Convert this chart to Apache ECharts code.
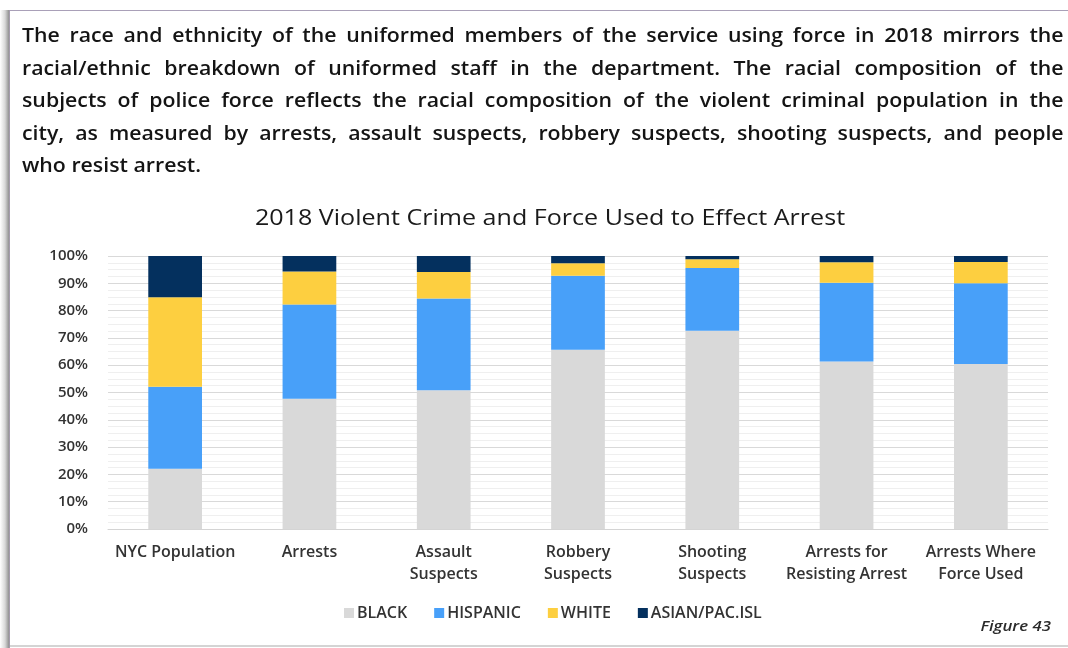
<!DOCTYPE html>
<html>
<head>
<meta charset="utf-8">
<script src="https://cdn.jsdelivr.net/npm/echarts@6/dist/echarts.min.js"></script>
<style>
  html, body { margin: 0; padding: 0; background: #fff; }
  #wrap { position: relative; width: 1068px; height: 648px; overflow: hidden; background: #fff; }
  #shadow { position: absolute; left: 0; top: 10px; width: 10px; height: 638px;
    background: linear-gradient(to right, #ffffff 0%, #d8d8d8 50%, #9a9a9a 85%, #a79bb3 100%); }
  #topline { position: absolute; left: 10px; top: 10px; width: 1058px; height: 1px; background: #a9a0b8; }
  #bottomline { position: absolute; left: 10px; top: 645px; width: 1058px; height: 2px; background: #d4d4d4; }
  #para { position: absolute; left: 22px; top: 19px; width: 930px; font-family: "Open Sans", Lato, sans-serif;
    font-size: 19px; color: #141414; line-height: 32.6px; font-weight: 600;
    transform: scaleX(1.12); transform-origin: 0 0; }
  #para div.j { text-align: justify; text-align-last: justify; }
  #chart { position: absolute; left: 0; top: 0; width: 1068px; height: 648px; }
  #fig { position: absolute; right: 17px; top: 615px; font-family: "Open Sans", Lato, sans-serif;
    font-style: italic; font-weight: 600; font-size: 15px; color: #2a2a2a;
    transform: scaleX(1.12); transform-origin: 100% 0; }
</style>
</head>
<body>
<div id="wrap">
  <div id="chart"></div>
  <div id="shadow"></div>
  <div id="topline"></div>
  <div id="bottomline"></div>
  <div id="para">
    <div class="j">The race and ethnicity of the uniformed members of the service using force in 2018 mirrors the</div>
    <div class="j">racial/ethnic breakdown of uniformed staff in the department. The racial composition of the</div>
    <div class="j">subjects of police force reflects the racial composition of the violent criminal population in the</div>
    <div class="j">city, as measured by arrests, assault suspects, robbery suspects, shooting suspects, and people</div>
    <div>who resist arrest.</div>
  </div>
  <div id="fig">Figure 43</div>
</div>
<script>
const categories = ["NYC Population", "Arrests", "Assault\nSuspects", "Robbery\nSuspects", "Shooting\nSuspects", "Arrests for\nResisting Arrest", "Arrests Where\nForce Used"];
const black    = [22.1, 47.7, 50.8, 65.7, 72.6, 61.4, 60.4];
const hispanic = [30.0, 34.5, 33.6, 27.1, 23.0, 28.8, 29.6];
const white    = [32.8, 12.1, 9.7, 4.5, 3.2, 7.5, 7.8];
const asian    = [15.1, 5.7, 5.9, 2.7, 1.2, 2.3, 2.2];
const seriesNames = ["BLACK", "HISPANIC", "WHITE", "ASIAN/PAC.ISL"];
const chartTitle = "2018 Violent Crime and Force Used to Effect Arrest";

const colors = ["#d9d9d9", "#48a0f9", "#fdcf40", "#04305e"];
const seriesData = [black, hispanic, white, asian];

const chart = echarts.init(document.getElementById('chart'), null, { renderer: 'canvas' });
const font = '"Open Sans", Lato, sans-serif';
chart.setOption({
  animation: false,
  color: colors,
  graphic: [{
    type: 'text', x: 550, y: 219, scaleX: 1.14,
    style: { text: chartTitle, textAlign: 'center', textVerticalAlign: 'middle',
      font: 'normal 22px "Open Sans", Lato, sans-serif', fill: '#1a1a1a' }
  }],
  legend: {
    data: seriesNames, left: 339, top: 600,
    itemWidth: 10, itemHeight: 10, itemGap: 27, icon: 'rect',
    textStyle: { fontFamily: font, fontSize: 16, fontWeight: 600, color: '#333', padding: [0, 0, 0, -2] }
  },
  grid: { left: 108, right: 20, top: 256, bottom: 119, containLabel: false },
  xAxis: {
    type: 'category', data: categories,
    axisLine: { lineStyle: { color: '#d4d4d4', width: 1 } },
    axisTick: { show: false },
    axisLabel: { fontFamily: font, fontSize: 16, fontWeight: 600, color: '#333', margin: 12, lineHeight: 22, interval: 0 }
  },
  yAxis: {
    type: 'value', min: 0, max: 100, interval: 10,
    axisLine: { show: false }, axisTick: { show: false },
    axisLabel: { formatter: '{value}%', fontFamily: font, fontSize: 15, fontWeight: 600, color: '#333', margin: 20 },
    splitLine: { lineStyle: { color: '#d9d9d9', width: 1 } },
    minorTick: { show: false, splitNumber: 4 },
    minorSplitLine: { show: true, lineStyle: { color: '#efefef', width: 1 } }
  },
  series: seriesNames.map((n, i) => ({
    name: n, type: 'bar', stack: 'total', data: seriesData[i],
    barCategoryGap: '60%',
    itemStyle: { color: colors[i] }
  }))
});
</script>
</body>
</html>
